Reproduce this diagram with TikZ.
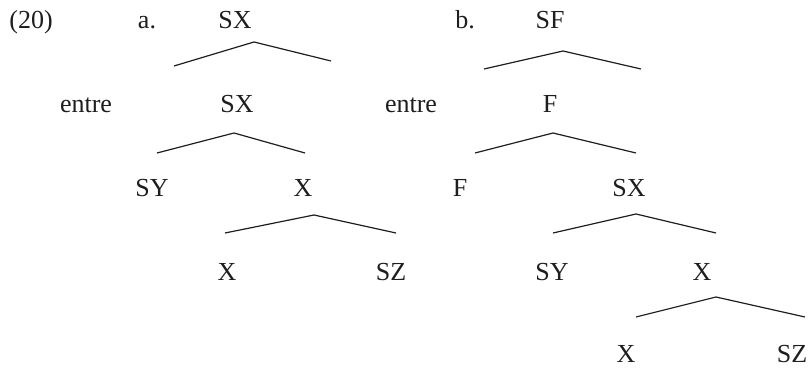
\documentclass[tikz,border=0pt]{standalone}
\usepackage{fontspec}
\setmainfont{Liberation Serif}
\usepackage{tikz}
\definecolor{treeink}{RGB}{30,30,30}

\begin{document}
\begin{tikzpicture}[
  x=0.5pt, y=-0.5pt,
  every node/.style={font=\fontsize{13}{15}\selectfont, inner sep=0pt,
                     anchor=base, text=treeink},
  branch/.style={line width=0.6pt, color=treeink}
]
  \useasboundingbox (0,0) rectangle (808,368);

  % example number and tree labels
  \node (exnum) at (31,29)  {(20)};
  \node (alabel) at (147,29) {a.};
  \node (blabel) at (465,29) {b.};

  % tree a
  \node (a0)  at (235,29)  {SX};
  \node (a1l) at (86,113)  {entre};
  \node (a1r) at (237,113) {SX};
  \node (a2l) at (152,197) {SY};
  \node (a2r) at (303,197) {X};
  \node (a3l) at (227,281) {X};
  \node (a3r) at (391,281) {SZ};

  \coordinate (a0l) at (174,66);  \coordinate (a0m) at (254,42);  \coordinate (a0r) at (331,61);
  \coordinate (a1bl) at (157,153); \coordinate (a1bm) at (234,133); \coordinate (a1br) at (305,153);
  \coordinate (a2bl) at (225,233); \coordinate (a2bm) at (314,215); \coordinate (a2br) at (396,233);

  \draw[branch] (a0l) -- (a0m) -- (a0r);
  \draw[branch] (a1bl) -- (a1bm) -- (a1br);
  \draw[branch] (a2bl) -- (a2bm) -- (a2br);

  % tree b
  \node (b0)  at (550,29)  {SF};
  \node (b1l) at (411,113) {entre};
  \node (b1r) at (550,113) {F};
  \node (b2l) at (460,197) {F};
  \node (b2r) at (629,197) {SX};
  \node (b3l) at (552,281) {SY};
  \node (b3r) at (702,281) {X};
  \node (b4l) at (626,363) {X};
  \node (b4r) at (792,363) {SZ};

  \coordinate (b0l) at (484,69);  \coordinate (b0m) at (563,51);  \coordinate (b0r) at (641,69);
  \coordinate (b1bl) at (475,153); \coordinate (b1bm) at (553,133); \coordinate (b1br) at (636,153);
  \coordinate (b2bl) at (553,233); \coordinate (b2bm) at (636,214); \coordinate (b2br) at (716,233);
  \coordinate (b3bl) at (636,317); \coordinate (b3bm) at (716,297); \coordinate (b3br) at (805,317);

  \draw[branch] (b0l) -- (b0m) -- (b0r);
  \draw[branch] (b1bl) -- (b1bm) -- (b1br);
  \draw[branch] (b2bl) -- (b2bm) -- (b2br);
  \draw[branch] (b3bl) -- (b3bm) -- (b3br);
\end{tikzpicture}
\end{document}
